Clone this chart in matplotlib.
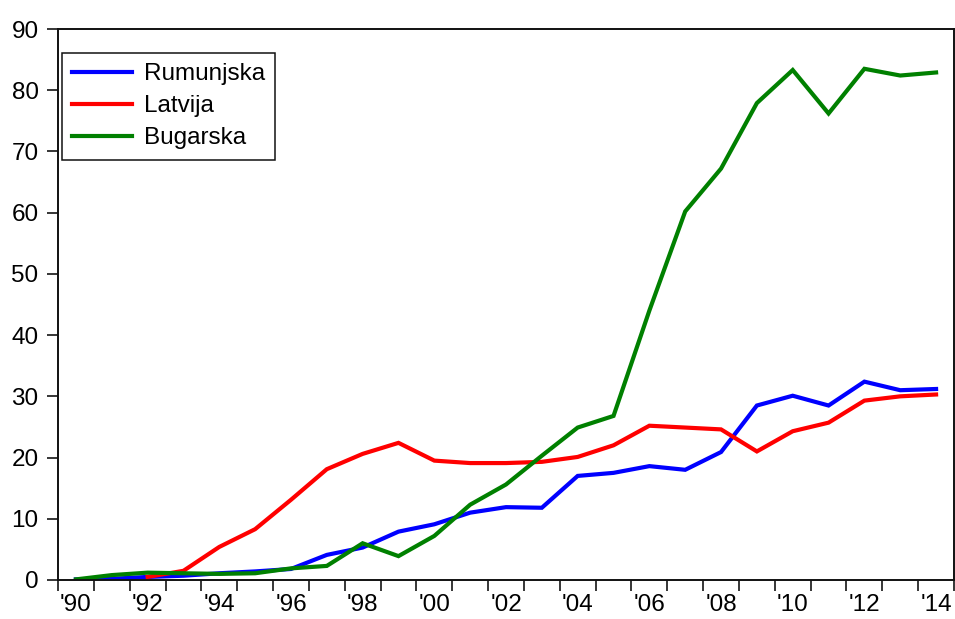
import matplotlib.pyplot as plt
import numpy as np

plt.rcParams['font.family'] = ['Liberation Sans', 'DejaVu Sans']

years = np.arange(1990, 2015)

rumunjska = [0.1, 0.2, 0.5, 0.7, 1.1, 1.4, 1.8, 4.1, 5.3, 7.9,
             9.1, 11.0, 11.9, 11.8, 17.0, 17.5, 18.6, 18.0, 20.9, 28.5,
             30.1, 28.5, 32.4, 31.0, 31.2]
latvija = [np.nan, np.nan, 0.5, 1.5, 5.4, 8.3, 13.1, 18.1, 20.6, 22.4,
           19.5, 19.1, 19.1, 19.3, 20.1, 22.0, 25.2, 24.9, 24.6, 21.0,
           24.3, 25.7, 29.3, 30.0, 30.3]
bugarska = [0.1, 0.8, 1.2, 1.1, 1.0, 1.1, 1.9, 2.3, 6.0, 3.9,
            7.2, 12.3, 15.6, 20.3, 24.9, 26.8, 44.0, 60.2, 67.2, 77.9,
            83.3, 76.2, 83.5, 82.4, 82.9]

series = [('Rumunjska', rumunjska, '#0000ff'),
          ('Latvija', latvija, '#ff0000'),
          ('Bugarska', bugarska, '#008000')]

fig = plt.figure(figsize=(9.55, 6.19), dpi=100)
ax = fig.add_axes([58 / 955, 39 / 619, 896 / 955, 551 / 619])

for name, values, color in series:
    ax.plot(years, values, color=color, linewidth=3.0, label=name,
            solid_joinstyle='miter')

ax.set_xlim(years[0] - 0.5, years[-1] + 0.5)
ax.set_ylim(0, 90)

# year labels every two years, tick marks on the year boundaries
ax.set_xticks(years[::2])
ax.set_xticklabels(["'%02d" % (y % 100) for y in years[::2]])
ax.set_xticks(np.arange(years[0] - 0.5, years[-1] + 1.0, 1.0), minor=True)
ax.tick_params(axis='x', which='major', length=0, pad=10, labelsize=17.5)
ax.tick_params(axis='x', which='minor', length=8, width=1.1, direction='out')

ax.set_yticks(np.arange(0, 91, 10))
ax.tick_params(axis='y', length=8, width=1.1, direction='out', pad=6, labelsize=17.5)

for spine in ax.spines.values():
    spine.set_linewidth(1.4)
    spine.set_color('#111111')

legend = ax.legend(loc='upper left', bbox_to_anchor=(4 / 896, 1 - 24 / 551),
                   fontsize=17.5, frameon=True, fancybox=False, framealpha=1,
                   edgecolor='#111111', handlelength=2.45, handletextpad=0.48,
                   labelspacing=0.41, borderpad=0.43, borderaxespad=0)
legend.get_frame().set_linewidth(1.1)

fig.savefig('out.png', dpi=100)
